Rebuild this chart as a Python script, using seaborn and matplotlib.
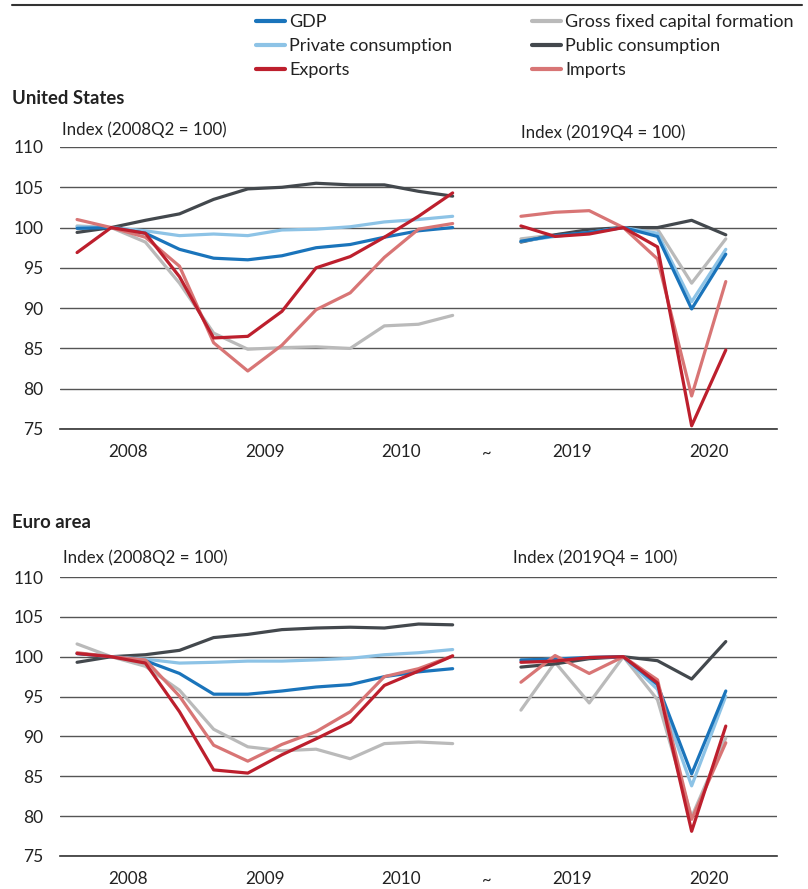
import numpy as np
import pandas as pd
import seaborn as sns
import matplotlib.pyplot as plt
from matplotlib.lines import Line2D

# quarters shown in the two windows of each panel
q_gfc = ["2008Q1", "2008Q2", "2008Q3", "2008Q4", "2009Q1", "2009Q2", "2009Q3", "2009Q4",
         "2010Q1", "2010Q2", "2010Q3", "2010Q4"]
q_cov = ["2019Q1", "2019Q2", "2019Q3", "2019Q4", "2020Q1", "2020Q2", "2020Q3"]

# United States, 2008Q2 = 100
us_gfc_gdp = [99.9, 100, 99.3, 97.3, 96.2, 96.0, 96.5, 97.5, 97.9, 98.8, 99.6, 100.0]
us_gfc_pc = [100.1, 100, 99.6, 99.0, 99.2, 99.0, 99.7, 99.8, 100.1, 100.7, 101.0, 101.4]
us_gfc_exp = [96.9, 100, 99.3, 93.9, 86.3, 86.5, 89.6, 95.0, 96.4, 98.8, 101.4, 104.3]
us_gfc_gfcf = [100.2, 100, 98.2, 93.1, 86.9, 84.9, 85.1, 85.2, 85.0, 87.8, 88.0, 89.1]
us_gfc_pub = [99.4, 100, 100.9, 101.7, 103.5, 104.8, 105.0, 105.5, 105.3, 105.3, 104.5, 103.9]
us_gfc_imp = [101.0, 100, 98.8, 95.2, 85.7, 82.2, 85.4, 89.8, 91.9, 96.3, 99.8, 100.5]

# United States, 2019Q4 = 100
us_cov_gdp = [98.3, 99.0, 99.4, 100, 98.9, 89.9, 96.7]
us_cov_pc = [98.3, 98.9, 99.4, 100, 99.3, 90.8, 97.3]
us_cov_exp = [100.2, 98.9, 99.2, 100, 97.6, 75.4, 84.8]
us_cov_gfcf = [98.6, 99.1, 99.6, 100, 99.8, 93.1, 98.6]
us_cov_pub = [98.2, 99.1, 99.75, 100, 100, 100.9, 99.1]
us_cov_imp = [101.4, 101.9, 102.1, 100, 96.1, 79.1, 93.3]

# Euro area, 2008Q2 = 100
ea_gfc_gdp = [100.4, 100, 99.5, 97.9, 95.3, 95.3, 95.7, 96.2, 96.5, 97.5, 98.1, 98.5]
ea_gfc_pc = [100.4, 100, 99.7, 99.2, 99.3, 99.45, 99.45, 99.6, 99.8, 100.25, 100.5, 100.9]
ea_gfc_exp = [100.4, 100, 99.2, 93.1, 85.8, 85.4, 87.7, 89.7, 91.8, 96.4, 98.2, 100.1]
ea_gfc_gfcf = [101.6, 100, 98.8, 95.8, 90.9, 88.7, 88.2, 88.4, 87.2, 89.1, 89.3, 89.1]
ea_gfc_pub = [99.3, 100, 100.25, 100.8, 102.4, 102.8, 103.4, 103.6, 103.7, 103.6, 104.1, 104.0]
ea_gfc_imp = [100.5, 100, 99.6, 95.05, 88.9, 86.9, 89.0, 90.6, 93.1, 97.5, 98.5, 100.1]

# Euro area, 2019Q4 = 100
ea_cov_gdp = [99.6, 99.7, 99.9, 100, 96.5, 85.3, 95.7]
ea_cov_pc = [99.45, 99.75, 99.9, 100, 95.9, 83.8, 95.05]
ea_cov_exp = [99.3, 99.45, 99.9, 100, 96.7, 78.1, 91.3]
ea_cov_gfcf = [93.3, 99.3, 94.2, 100, 94.6, 79.9, 89.8]
ea_cov_pub = [98.7, 99.1, 99.75, 100, 99.5, 97.2, 101.9]
ea_cov_imp = [96.8, 100.15, 97.9, 100, 97.1, 79.6, 89.2]

# legend order (column-wise fill)
series = ["GDP", "Private consumption", "Exports",
          "Gross fixed capital formation", "Public consumption", "Imports"]
palette = {"GDP": "#1a74bb", "Private consumption": "#8dc3e6", "Exports": "#bd1f2d",
           "Gross fixed capital formation": "#bababa", "Public consumption": "#43484d",
           "Imports": "#d87575"}

year_ticks = [2008, 2009, 2010, 2019, 2020]


def qpos(q):
    # one-quarter break ("~") between 2010Q4 and 2019Q1
    y, n = int(q[:4]), int(q[-1])
    if y <= 2010:
        return (y - 2008) * 4 + n - 0.5
    return 13 + (y - 2019) * 4 + n - 0.5


def long_df(gfc, cov):
    rows = []
    for s, v in zip(series, gfc):
        for q, val in zip(q_gfc, v):
            rows.append((s, "gfc", q, val))
    for s, v in zip(series, cov):
        for q, val in zip(q_cov, v):
            rows.append((s, "cov", q, val))
    df = pd.DataFrame(rows, columns=["series", "window", "quarter", "value"])
    df["x"] = df["quarter"].map(qpos)
    return df


us = long_df([us_gfc_gdp, us_gfc_pc, us_gfc_exp, us_gfc_gfcf, us_gfc_pub, us_gfc_imp],
             [us_cov_gdp, us_cov_pc, us_cov_exp, us_cov_gfcf, us_cov_pub, us_cov_imp])
ea = long_df([ea_gfc_gdp, ea_gfc_pc, ea_gfc_exp, ea_gfc_gfcf, ea_gfc_pub, ea_gfc_imp],
             [ea_cov_gdp, ea_cov_pc, ea_cov_exp, ea_cov_gfcf, ea_cov_pub, ea_cov_imp])

sns.set_style("white")
plt.rcParams["font.family"] = ["Lato", "DejaVu Sans"]
plt.rcParams["font.size"] = 12
txt = "#222222"

W, H = 808, 889
fig = plt.figure(figsize=(W / 100, H / 100), dpi=100)
ax_us = fig.add_axes([60 / W, 1 - 429 / H, 717 / W, 282 / H])
ax_ea = fig.add_axes([60 / W, 1 - 856 / H, 717 / W, 279 / H])

# draw order: greys first, reds on top
draw_order = ["Gross fixed capital formation", "Public consumption", "Private consumption",
              "GDP", "Imports", "Exports"]

for ax, df in [(ax_us, us), (ax_ea, ea)]:
    for s in draw_order:
        sns.lineplot(data=df[df["series"] == s], x="x", y="value", units="window",
                     estimator=None, color=palette[s], lw=2.3, ax=ax, legend=False,
                     zorder=3)
    ax.set_xlim(0, 21)
    ax.set_ylim(75, 110)
    ax.set_yticks(np.arange(75, 111, 5))
    ax.yaxis.grid(True, color="#555555", lw=1)
    ax.set_axisbelow(True)
    for sp in ["left", "right", "top"]:
        ax.spines[sp].set_visible(False)
    ax.spines["bottom"].set_color("#333333")
    ax.spines["bottom"].set_linewidth(1.2)
    ax.set_xticks([0, 4, 8, 12, 13, 17, 21])
    ax.set_xticklabels([])
    ax.set_xticks([qpos(f"{y}Q2") + 0.5 for y in year_ticks], minor=True)
    ax.set_xticklabels([str(y) for y in year_ticks], minor=True)
    ax.tick_params(axis="x", which="major", length=6, width=1, color="#333333", direction="out")
    ax.tick_params(axis="x", which="minor", length=0, pad=11, labelsize=12.3, labelcolor=txt)
    ax.tick_params(axis="y", length=0, pad=12, labelsize=12.5, labelcolor=txt)
    ax.set_xlabel("")
    ax.set_ylabel("")
    ax.text(12.5, 73.0, "~", ha="center", va="top", fontsize=12, color=txt)

fig.text(62 / W, 1 - 130 / H, "Index (2008Q2 = 100)", ha="left", va="center", fontsize=12.2, color=txt)
fig.text(521 / W, 1 - 133 / H, "Index (2019Q4 = 100)", ha="left", va="center", fontsize=12.2, color=txt)
fig.text(63 / W, 1 - 558 / H, "Index (2008Q2 = 100)", ha="left", va="center", fontsize=12.2, color=txt)
fig.text(513 / W, 1 - 558 / H, "Index (2019Q4 = 100)", ha="left", va="center", fontsize=12.2, color=txt)

fig.text(12 / W, 1 - 98 / H, "United States", ha="left", va="center", fontsize=13.3,
         fontweight="bold", color=txt)
fig.text(12 / W, 1 - 522 / H, "Euro area", ha="left", va="center", fontsize=13.3,
         fontweight="bold", color=txt)

fig.add_artist(Line2D([12 / W, 802 / W], [1 - 5 / H, 1 - 5 / H], color="#333333", lw=1.5))

handles = [Line2D([], [], color=palette[s], lw=3) for s in series]
fig.legend(handles, series, ncol=2, loc="upper left", bbox_to_anchor=(256 / W, 1 - 14 / H),
           frameon=False, borderpad=0, borderaxespad=0, handlelength=1.6, handletextpad=0.25,
           labelspacing=0.45, columnspacing=4.4, fontsize=13, labelcolor=txt)

fig.savefig("out.png", dpi=100)
